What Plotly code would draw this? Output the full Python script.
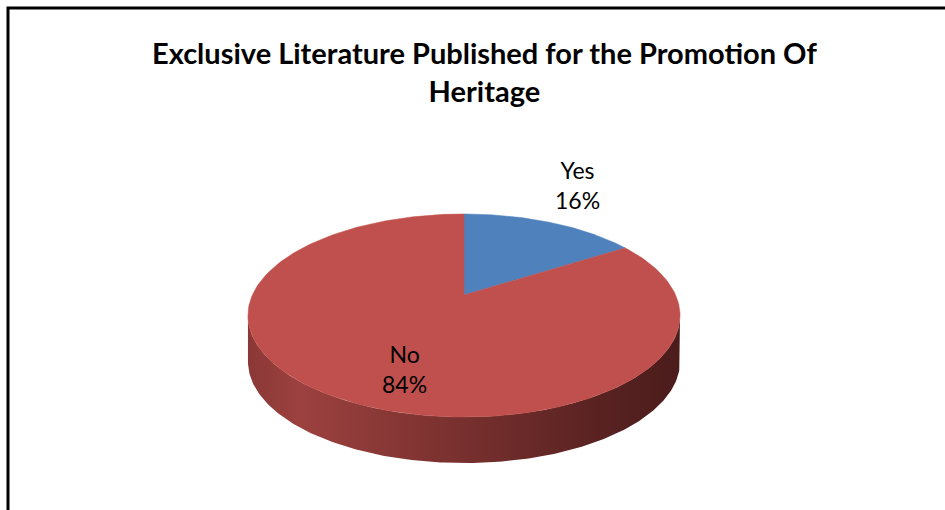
import numpy as np
import plotly.graph_objects as go

# ---- data ----
categories = ["Yes", "No"]
values = [16, 84]
colors = ["#4F81BD", "#C0504D"]
title_text = "Exclusive Literature Published for the Promotion Of<br>Heritage"

# ---- geometry (layout, pixel-space axes) ----
W, H = 945, 510
cx, cy = 464, 295          # pie centre on screen
A, B, k = 211.6, 97.4, 0.202   # perspective ellipse params
depth = 46

def proj(u, v):
    w = 1 + k * v
    return cx + A * u / w, cy - B * v / w

fig = go.Figure()

# side (visible front rim)
a = np.arcsin(k)
psi = np.linspace(np.pi + a, 2 * np.pi - a, 200)
tx, ty = proj(np.cos(psi), np.sin(psi))
sx = np.concatenate([tx, tx[::-1]])
sy = np.concatenate([ty, (ty + depth)[::-1]])
fig.add_trace(go.Scatter(
    x=sx, y=sy, mode="lines", fill="toself",
    line=dict(width=0, color="#7a302e"),
    fillgradient=dict(type="horizontal", colorscale=[
        [0.0, "#8a3836"], [0.12, "#9c413f"], [0.45, "#7c3230"],
        [0.8, "#5a2322"], [1.0, "#4a1c1b"]]),
    hoverinfo="skip", showlegend=False))

# top faces of slices
total = sum(values)
cum = 0.0
for name, val, col in zip(categories, values, colors):
    f0, f1 = cum / total, (cum + val) / total
    cum += val
    phi = np.linspace(2 * np.pi * f0, 2 * np.pi * f1, 200)
    u = np.concatenate([[0], np.sin(phi), [0]])
    v = np.concatenate([[0], np.cos(phi), [0]])
    px, py = proj(u, v)
    fig.add_trace(go.Scatter(
        x=px, y=py, mode="lines", fill="toself", fillcolor=col,
        line=dict(width=0.5, color=col), name=name,
        hovertemplate=f"{name}: {val}%<extra></extra>", showlegend=False))

# data labels
label_pos = {"Yes": (577, 185), "No": (404, 369)}
for name, val in zip(categories, values):
    x, y = label_pos[name]
    fig.add_annotation(x=x, y=y, text=f"{name}<br>{round(val / total * 100)}%",
                       showarrow=False, font=dict(family="Lato", size=23, color="#000000"),
                       align="center", xanchor="center", yanchor="middle")

fig.add_annotation(x=484, y=71, text=f"<b>{title_text}</b>", showarrow=False,
                   font=dict(family="Lato", size=29, color="#000000"),
                   align="center", xanchor="center", yanchor="middle")

# chart border (cropped)
fig.add_shape(type="rect", x0=8, y0=8, x1=W + 20, y1=H + 20,
              line=dict(color="#000000", width=3), layer="above")

fig.update_xaxes(range=[0, W], visible=False, fixedrange=True)
fig.update_yaxes(range=[H, 0], visible=False, fixedrange=True)
fig.update_layout(width=W, height=H, margin=dict(l=0, r=0, t=0, b=0),
                  paper_bgcolor="white", plot_bgcolor="white", showlegend=False)

fig.write_html("out.html")
